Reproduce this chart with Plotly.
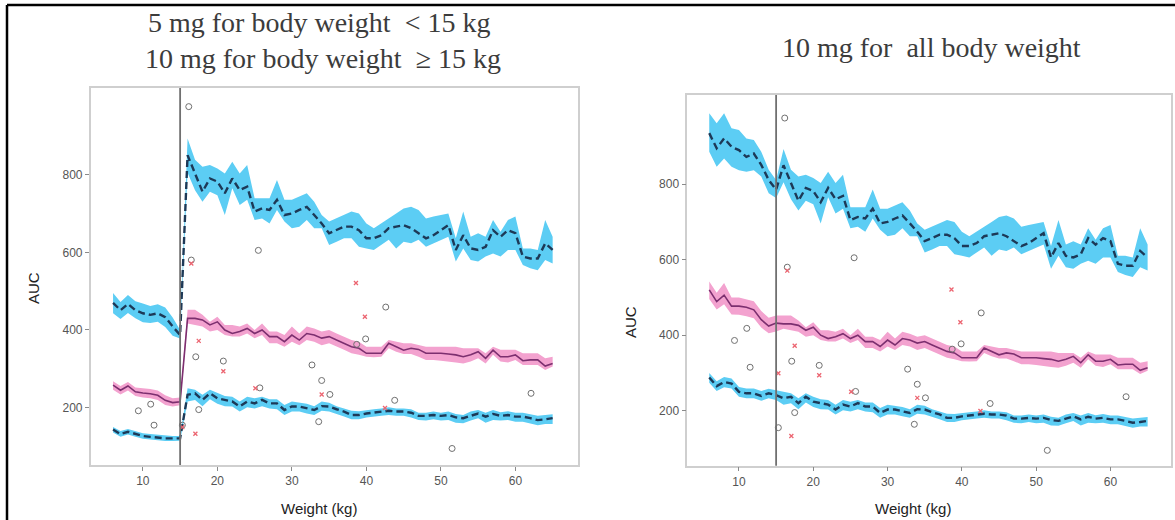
import plotly.graph_objects as go

# weight grid (kg): below and above the 15 kg cut-off
wt_low = [6, 7, 8, 9, 10, 11, 12, 13, 14, 15]
wt_high = [16, 17, 18, 19, 20, 21, 22, 23, 24, 25, 26, 27, 28, 29, 30, 31, 32, 33, 34, 35,
           36, 37, 38, 39, 40, 41, 42, 43, 44, 45, 46, 47, 48, 49, 50, 51, 52, 53, 54, 55,
           56, 57, 58, 59, 60, 61, 62, 63, 64, 65]

# simulated percentiles, 5 mg below 15 kg (left panel)
p95_5mg = [470, 451, 467, 451, 443, 439, 443, 433, 409, 387]
p95_5mg_hi = [495, 472, 490, 474, 468, 462, 466, 458, 432, 400]
p95_5mg_lo = [443, 428, 444, 430, 420, 418, 421, 408, 385, 378]
p50_5mg = [258, 245, 256, 241, 238, 236, 232, 219, 213, 215]
p50_5mg_hi = [268, 256, 266, 252, 250, 248, 244, 232, 224, 226]
p50_5mg_lo = [246, 234, 244, 230, 226, 224, 220, 207, 203, 206]
p05_5mg = [144, 132, 138, 132, 127, 125, 123, 121, 121, 121]
p05_5mg_hi = [150, 140, 145, 139, 134, 132, 130, 128, 127, 127]
p05_5mg_lo = [136, 125, 131, 125, 120, 118, 116, 114, 114, 115]

# simulated percentiles, 10 mg below 15 kg (right panel)
p95_10mg_low = [935, 895, 921, 899, 890, 872, 881, 851, 811, 785]
p95_10mg_low_hi = [988, 961, 988, 948, 943, 921, 917, 886, 838, 811]
p95_10mg_low_lo = [886, 846, 868, 846, 837, 833, 837, 820, 776, 763]
p50_10mg_low = [520, 489, 506, 477, 477, 474, 467, 441, 424, 432]
p50_10mg_low_hi = [542, 512, 538, 500, 500, 496, 490, 464, 446, 452]
p50_10mg_low_lo = [496, 468, 482, 455, 454, 450, 445, 420, 405, 410]
p05_10mg_low = [288, 265, 276, 272, 250, 246, 246, 239, 246, 241]
p05_10mg_low_hi = [300, 278, 289, 285, 263, 259, 259, 252, 258, 254]
p05_10mg_low_lo = [274, 252, 262, 259, 237, 233, 233, 226, 233, 228]

# simulated percentiles, 10 mg from 16 kg up (same in both panels)
p95_10mg = [850, 803, 756, 790, 782, 752, 790, 760, 769, 705, 713, 709, 735, 696, 700, 709, 717, 696, 674, 649,
            657, 666, 666, 657, 636, 636, 644, 662, 666, 670, 662, 649, 636, 644, 657, 670, 606, 644, 610, 606,
            614, 657, 640, 657, 649, 589, 584, 584, 623, 606]
p95_10mg_hi = [893, 838, 820, 825, 816, 803, 833, 803, 825, 739, 739, 739, 786, 735, 735, 743, 752, 730, 696, 679,
               687, 696, 705, 700, 674, 662, 674, 687, 700, 713, 717, 709, 687, 692, 696, 700, 636, 705, 640, 649,
               640, 683, 653, 683, 692, 610, 610, 606, 683, 640]
p95_10mg_lo = [805, 760, 730, 756, 747, 696, 765, 722, 735, 683, 687, 674, 709, 679, 662, 666, 683, 662, 662, 619,
               627, 636, 636, 614, 610, 606, 619, 632, 610, 627, 623, 632, 614, 623, 632, 640, 576, 610, 580, 576,
               589, 597, 589, 606, 606, 567, 559, 554, 580, 571]
p50_10mg = [430, 430, 426, 413, 421, 400, 391, 396, 404, 391, 400, 383, 383, 370, 387, 374, 391, 387, 379, 383,
            374, 366, 357, 353, 340, 340, 340, 366, 357, 348, 353, 350, 340, 340, 340, 338, 336, 331, 336, 344,
            327, 348, 331, 331, 336, 321, 323, 323, 307, 314]
p50_10mg_hi = [452, 452, 439, 421, 434, 413, 413, 409, 417, 400, 417, 396, 396, 387, 409, 391, 409, 404, 396, 400,
               391, 383, 374, 370, 357, 357, 357, 374, 370, 366, 366, 361, 357, 357, 357, 357, 357, 353, 353, 353,
               340, 357, 349, 349, 349, 340, 340, 340, 327, 331]
p50_10mg_lo = [417, 413, 409, 396, 400, 387, 383, 383, 391, 379, 387, 366, 366, 357, 370, 361, 374, 370, 361, 366,
               357, 349, 340, 336, 331, 330, 331, 353, 344, 338, 338, 331, 323, 323, 321, 319, 316, 314, 319, 327,
               314, 336, 319, 316, 323, 310, 310, 310, 297, 306]
p05_10mg = [233, 237, 220, 237, 224, 220, 216, 203, 216, 211, 220, 211, 211, 194, 203, 203, 198, 194, 204, 203,
            196, 190, 181, 181, 185, 187, 190, 192, 190, 190, 187, 179, 179, 181, 179, 181, 175, 173, 179, 185,
            177, 184, 179, 181, 177, 177, 173, 168, 170, 173]
p05_10mg_hi = [250, 246, 233, 246, 237, 230, 228, 216, 228, 224, 228, 222, 222, 207, 216, 213, 210, 204, 216, 213,
               204, 198, 192, 191, 194, 196, 198, 201, 198, 198, 196, 187, 187, 190, 187, 190, 184, 181, 190, 194,
               187, 194, 188, 191, 187, 187, 183, 179, 181, 183]
p05_10mg_lo = [216, 220, 204, 222, 210, 204, 203, 190, 201, 198, 204, 198, 196, 181, 190, 190, 185, 181, 192, 190,
               184, 177, 170, 170, 175, 177, 179, 181, 179, 179, 175, 168, 167, 170, 167, 168, 161, 160, 167, 173,
               161, 168, 167, 168, 164, 164, 160, 155, 158, 158]

# observed data, open circles
obs_wt = [16.16, 16.5, 25.5, 17.1, 20.8, 25.7, 15.3, 17.5, 32.7, 34.0, 35.1, 33.6, 39.9, 42.6, 43.8, 51.5, 62.1, 38.7]
obs_auc = [975, 580, 605, 331, 320, 251, 155, 195, 310, 270, 234, 164, 377, 459, 219, 95, 237, 363]
obs_wt_small = [9.4, 11.05, 11.5]
obs_auc_small_5mg = [192, 209, 155]
obs_auc_small_10mg = [386, 418, 315]

# observed data, red crosses
red_wt = [16.5, 17.5, 20.8, 25.1, 17.05, 34.0, 38.6, 39.8, 42.5]
red_auc = [571, 372, 294, 250, 133, 234, 521, 434, 199]
red_wt_small = [15.3]
red_auc_small_5mg = [150]
red_auc_small_10mg = [299]

BLUE = "#5ccdf4"
PINK = "#f3a2cf"
NAVY = "#1d3957"
PURPLE = "#7c2f6f"

W, H = 1175, 520

fig = go.Figure()


def ribbon(w, lo, hi, color, xa, ya):
    fig.add_trace(go.Scatter(x=w + w[::-1], y=hi + lo[::-1], fill="toself", fillcolor=color,
                             line=dict(width=0), mode="lines", hoverinfo="skip",
                             xaxis=xa, yaxis=ya, showlegend=False))


def pline(w, y, color, width, dash, xa, ya):
    fig.add_trace(go.Scatter(x=w, y=y, mode="lines", line=dict(color=color, width=width, dash=dash),
                             xaxis=xa, yaxis=ya, showlegend=False))


panels = [
    ("x", "y", [p95_5mg, p95_5mg_lo, p95_5mg_hi, p50_5mg, p50_5mg_lo, p50_5mg_hi, p05_5mg, p05_5mg_lo, p05_5mg_hi],
     obs_auc_small_5mg, red_auc_small_5mg),
    ("x2", "y2", [p95_10mg_low, p95_10mg_low_lo, p95_10mg_low_hi, p50_10mg_low, p50_10mg_low_lo, p50_10mg_low_hi,
                  p05_10mg_low, p05_10mg_low_lo, p05_10mg_low_hi],
     obs_auc_small_10mg, red_auc_small_10mg),
]

wt = wt_low + wt_high
for xa, ya, low, obs_small, red_small in panels:
    p95, p95lo, p95hi, p50, p50lo, p50hi, p05, p05lo, p05hi = low
    ribbon(wt, p95lo + p95_10mg_lo, p95hi + p95_10mg_hi, BLUE, xa, ya)
    ribbon(wt, p50lo + p50_10mg_lo, p50hi + p50_10mg_hi, PINK, xa, ya)
    ribbon(wt, p05lo + p05_10mg_lo, p05hi + p05_10mg_hi, BLUE, xa, ya)
    pline(wt, p95 + p95_10mg, NAVY, 2.4, "7px,4px", xa, ya)
    pline(wt, p50 + p50_10mg, PURPLE, 1.6, "solid", xa, ya)
    pline(wt, p05 + p05_10mg, NAVY, 2.4, "7px,4px", xa, ya)
    fig.add_trace(go.Scatter(x=obs_wt_small + obs_wt, y=obs_small + obs_auc, mode="markers",
                             marker=dict(symbol="circle-open", size=6, color="#707070", line=dict(width=1)),
                             xaxis=xa, yaxis=ya, showlegend=False))
    fig.add_trace(go.Scatter(x=red_wt_small + red_wt, y=red_small + red_auc, mode="markers",
                             marker=dict(symbol="x-thin-open", size=4, color="#ec6470", line=dict(width=1.3)),
                             xaxis=xa, yaxis=ya, showlegend=False))
    # 15 kg cut-off
    fig.add_shape(type="line", x0=15, x1=15, y0=0, y1=1, xref=xa, yref=ya + " domain",
                  line=dict(color="#707070", width=1.8), layer="above")

axis_style = dict(showgrid=False, zeroline=False, showline=True, mirror=True, linecolor="#cfcfcf",
                  linewidth=1.5, ticks="outside", ticklen=4, tickcolor="#8a8a8a",
                  tickfont=dict(family="Liberation Sans", size=12, color="#555555"))

fig.update_layout(
    width=W, height=H,
    margin=dict(l=0, r=0, t=0, b=0),
    paper_bgcolor="white", plot_bgcolor="white",
    xaxis=dict(domain=[0.0772, 0.4919], range=[3.0, 68.4], tickvals=[10, 20, 30, 40, 50, 60], anchor="y",
               **axis_style),
    yaxis=dict(domain=[0.1058, 0.8308], range=[52.5, 1023], tickvals=[200, 400, 600, 800], anchor="x",
               **axis_style),
    xaxis2=dict(domain=[0.5849, 0.9963], range=[3.04, 68.1], tickvals=[10, 20, 30, 40, 50, 60], anchor="y2",
                **axis_style),
    yaxis2=dict(domain=[0.1044, 0.8173], range=[54.3, 1036], tickvals=[200, 400, 600, 800], anchor="x2",
                **axis_style),
)


def note(text, px, py, font, angle=0):
    fig.add_annotation(text=text, x=px / W, y=1 - py / H, xref="paper", yref="paper", xanchor="center",
                       yanchor="middle", showarrow=False, textangle=angle, font=font)


# titles above the panels
title_font = dict(family="Liberation Serif", size=28, color="#3c3c3c")
note("5 mg for body weight  < 15 kg", 319, 23, title_font)
note("10 mg for body weight  \u2265 15 kg", 323, 58, title_font)
note("10 mg for  all body weight", 931, 47, title_font)

# axis titles
lab_font = dict(family="Liberation Sans", size=15, color="#222222")
note("Weight (kg)", 319, 508, lab_font)
note("Weight (kg)", 913, 508, lab_font)
note("AUC", 33, 288, lab_font, -90)
note("AUC", 630, 322, lab_font, -90)

# page frame from the source document
fig.add_shape(type="line", xref="paper", yref="paper", x0=7 / W, x1=1, y0=1 - 5 / H, y1=1 - 5 / H,
              line=dict(color="black", width=2.5))
fig.add_shape(type="line", xref="paper", yref="paper", x0=7 / W, x1=7 / W, y0=0, y1=1 - 5 / H,
              line=dict(color="black", width=2.5))

# the page has a default 8px body margin; drop it so the figure sits at the window corner
fig.write_html("out.html", config={"displayModeBar": False},
               post_script="document.body.style.margin='0';")
